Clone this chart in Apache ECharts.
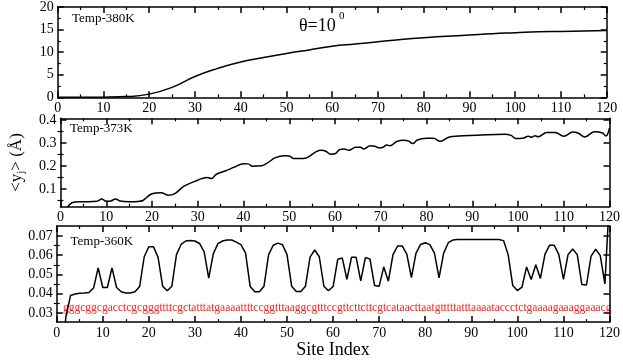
<!DOCTYPE html>
<html>
<head>
<meta charset="utf-8">
<script src="https://cdn.jsdelivr.net/npm/echarts@6/dist/echarts.min.js"></script>
<style>
  html, body { margin: 0; padding: 0; background: #fff; }
  #chart { width: 623px; height: 360px; }
</style>
</head>
<body>
<div id="chart"></div>
<script>
// top panel, Temp-380K (smooth curve, read at every 5 sites)
const x380 = [0, 5, 10, 15, 20, 25, 30, 35, 40, 45, 50, 55, 60, 65, 70, 75, 80, 85, 90, 95, 100, 105, 110, 115, 120];
const y380 = [0, 0, 0.03, 0.15, 0.7, 2.2, 4.6, 6.4, 7.8, 8.8, 9.7, 10.5, 11.3, 11.8, 12.3, 12.8, 13.2, 13.5, 13.8, 14.1, 14.3, 14.5, 14.6, 14.7, 14.8];

// middle panel, Temp-373K
const x373 = [1.5, 2.5, 4, 6, 8, 9, 10, 11, 12, 13, 15, 17, 18, 20, 22, 23.5, 25, 27, 30, 32, 33, 34, 36, 38, 40, 41, 42, 44, 45, 47, 49, 50, 51, 53, 54, 56, 57, 58, 59, 60, 61, 62, 63, 64.5, 65.5, 66.3, 67.7, 68.7, 69.7, 70.5, 71.3, 72, 73.5, 75, 76, 77, 78, 80, 81.5, 83, 85, 87, 91, 97, 98.5, 99.5, 101, 102.3, 103, 103.7, 104.4, 106.3, 108.1, 110, 112, 113.2, 114.6, 116.7, 118.5, 119.2, 120];
const y373 = [0.02, 0.04, 0.045, 0.045, 0.047, 0.056, 0.047, 0.048, 0.056, 0.048, 0.045, 0.046, 0.05, 0.079, 0.084, 0.073, 0.08, 0.112, 0.138, 0.15, 0.145, 0.163, 0.178, 0.195, 0.21, 0.209, 0.199, 0.201, 0.21, 0.236, 0.244, 0.243, 0.232, 0.232, 0.237, 0.263, 0.268, 0.264, 0.251, 0.253, 0.271, 0.274, 0.268, 0.281, 0.281, 0.274, 0.288, 0.286, 0.278, 0.281, 0.291, 0.288, 0.306, 0.312, 0.309, 0.297, 0.313, 0.32, 0.32, 0.307, 0.326, 0.33, 0.333, 0.338, 0.333, 0.319, 0.32, 0.329, 0.325, 0.331, 0.327, 0.345, 0.345, 0.329, 0.348, 0.342, 0.326, 0.349, 0.343, 0.33, 0.365];

// bottom panel, Temp-360K (one value per site 1..120)
const sites360 = Array.from({ length: 120 }, (_, i) => i + 1);
const y360 = [
  0.005, 0.028, 0.039, 0.0398, 0.0402, 0.0403, 0.0406, 0.0429, 0.0534, 0.0432,
  0.0432, 0.0534, 0.0432, 0.041, 0.0403, 0.0403, 0.041, 0.0437, 0.0592, 0.0644,
  0.0644, 0.059, 0.0439, 0.0415, 0.0439, 0.0603, 0.0656, 0.0674, 0.0677, 0.0674,
  0.0661, 0.0619, 0.0481, 0.0608, 0.066, 0.0674, 0.0679, 0.0679, 0.0668, 0.0655,
  0.0611, 0.0437, 0.041, 0.041, 0.0439, 0.0603, 0.0652, 0.0663, 0.0655, 0.0603,
  0.0439, 0.0411, 0.0411, 0.0439, 0.059, 0.0627, 0.0592, 0.0439, 0.0415, 0.0437,
  0.0579, 0.0585, 0.0474, 0.0589, 0.0589, 0.0466, 0.0587, 0.0581, 0.0442, 0.0439,
  0.0539, 0.0465, 0.0603, 0.0648, 0.0648, 0.0606, 0.0484, 0.0611, 0.0656, 0.0665,
  0.0655, 0.0611, 0.0482, 0.0611, 0.0665, 0.0679, 0.0682, 0.0682, 0.0682, 0.0682,
  0.0682, 0.0682, 0.0682, 0.0682, 0.0682, 0.0682, 0.0676, 0.0603, 0.0442, 0.0416,
  0.0434, 0.0539, 0.0474, 0.055, 0.0479, 0.0606, 0.0652, 0.0652, 0.0603, 0.0474,
  0.0603, 0.0632, 0.0603, 0.0447, 0.0445, 0.0595, 0.0631, 0.0598, 0.045, 0.09
];

const sequence = 'gggcggcgacctcgcgggttttcgctatttatgaaaattttccggtttaaggcgtttccgttcttcttcgtcataacttaatgtttttatttaaaataccctctgaaaagaaaggaaacg';

const ticks373 = [0.1, 0.2, 0.3, 0.4];
const minor373 = [0.05, 0.15, 0.25, 0.35];
const ticks360 = [0.03, 0.04, 0.05, 0.06, 0.07];
const minor360 = [0.035, 0.045, 0.055, 0.065];

const FONT = 'Liberation Serif';
const BLACK = '#000';

let chart = echarts.init(document.getElementById('chart'));

function pairs(xs, ys) {
  return xs.map((x, i) => [x, ys[i]]);
}

function xAxis(grid, pos, label) {
  return {
    type: 'value', gridIndex: grid, position: pos, min: 0, max: 120, interval: 10,
    axisLine: { show: true, onZero: false, lineStyle: { color: BLACK, width: 1.5 } },
    axisTick: { show: true, inside: true, length: 6, lineStyle: { color: BLACK, width: 1.5 } },
    minorTick: { show: true, splitNumber: 2, length: 3, lineStyle: { color: BLACK, width: 1.2 } },
    axisLabel: { show: label, margin: 4, color: BLACK, fontFamily: FONT, fontSize: 14 },
    splitLine: { show: false }
  };
}

function yAxis(grid, pos, min, max, opts) {
  return Object.assign({
    type: 'value', gridIndex: grid, position: pos, min: min, max: max,
    axisLine: { show: true, onZero: false, lineStyle: { color: BLACK, width: 1.5 } },
    axisTick: { show: true, inside: true, length: 6, lineStyle: { color: BLACK, width: 1.5 } },
    axisLabel: { show: false },
    splitLine: { show: false }
  }, opts);
}

const label = { show: true, margin: 4, color: BLACK, fontFamily: FONT, fontSize: 14 };
const minorTickStyle = { show: true, inside: true, length: 3, lineStyle: { color: BLACK, width: 1.2 } };

let xAxes = [
  xAxis(0, 'bottom', true), xAxis(0, 'top', false),
  xAxis(1, 'bottom', true), xAxis(1, 'top', false),
  Object.assign(xAxis(2, 'bottom', true), {
    name: 'Site Index', nameLocation: 'middle', nameGap: 18,
    nameTextStyle: { color: BLACK, fontFamily: FONT, fontSize: 18 }
  }),
  xAxis(2, 'top', false)
];

let yAxes = [
  // top panel
  yAxis(0, 'left', 0, 20, { interval: 5, axisLabel: label,
    minorTick: { show: true, splitNumber: 2, length: 3, lineStyle: { color: BLACK, width: 1.2 } } }),
  yAxis(0, 'right', 0, 20, { interval: 5,
    minorTick: { show: true, splitNumber: 2, length: 3, lineStyle: { color: BLACK, width: 1.2 } } }),
  // middle panel
  yAxis(1, 'left', 0.023, 0.407, {
    axisLabel: Object.assign({ customValues: ticks373 }, label),
    axisTick: { show: true, inside: true, length: 6, customValues: ticks373, lineStyle: { color: BLACK, width: 1.5 } },
    name: '{a|<y}{b|j}{a|> (Å)}', nameLocation: 'middle', nameRotate: 90, nameGap: 34,
    nameTextStyle: {
      rich: {
        a: { fontFamily: FONT, fontSize: 17, color: BLACK, lineHeight: 20 },
        b: { fontFamily: FONT, fontSize: 11, color: BLACK, lineHeight: 10, verticalAlign: 'bottom' }
      }
    }
  }),
  yAxis(1, 'right', 0.023, 0.407, {
    axisTick: { show: true, inside: true, length: 6, customValues: ticks373, lineStyle: { color: BLACK, width: 1.5 } } }),
  yAxis(1, 'left', 0.023, 0.407, { axisLine: { show: false },
    axisTick: Object.assign({ customValues: minor373 }, minorTickStyle) }),
  yAxis(1, 'right', 0.023, 0.407, { axisLine: { show: false },
    axisTick: Object.assign({ customValues: minor373 }, minorTickStyle) }),
  // bottom panel
  yAxis(2, 'left', 0.0252, 0.0752, {
    axisLabel: Object.assign({ customValues: ticks360 }, label),
    axisTick: { show: true, inside: true, length: 6, customValues: ticks360, lineStyle: { color: BLACK, width: 1.5 } } }),
  yAxis(2, 'right', 0.0252, 0.0752, {
    axisTick: { show: true, inside: true, length: 6, customValues: ticks360, lineStyle: { color: BLACK, width: 1.5 } } }),
  yAxis(2, 'left', 0.0252, 0.0752, { axisLine: { show: false },
    axisTick: Object.assign({ customValues: minor360 }, minorTickStyle) }),
  yAxis(2, 'right', 0.0252, 0.0752, { axisLine: { show: false },
    axisTick: Object.assign({ customValues: minor360 }, minorTickStyle) })
];

function text(left, top, str, size, color) {
  return {
    type: 'text', left: left, top: top,
    style: { text: str, fontFamily: FONT, fontSize: size, fill: color || BLACK }
  };
}

chart.setOption({
  animation: false,
  backgroundColor: '#fff',
  grid: [
    { left: 57.7, top: 5, width: 549, height: 92.3 },
    { left: 57.7, top: 118.3, width: 554, height: 88.4 },
    { left: 56.7, top: 226, width: 555, height: 103.3 }
  ],
  xAxis: xAxes,
  yAxis: yAxes,
  series: [
    {
      type: 'line', xAxisIndex: 0, yAxisIndex: 0, data: pairs(x380, y380),
      smooth: true, showSymbol: false, lineStyle: { color: BLACK, width: 1.5 }
    },
    {
      type: 'line', xAxisIndex: 2, yAxisIndex: 2, data: pairs(x373, y373),
      smooth: 0.4, showSymbol: false, lineStyle: { color: BLACK, width: 1.5 }
    },
    {
      type: 'line', xAxisIndex: 4, yAxisIndex: 6, data: pairs(sites360, y360),
      showSymbol: false, lineStyle: { color: BLACK, width: 1.5 }
    }
  ],
  graphic: [
    text(72, 12, 'Temp-380K', 13),
    text(70, 122.5, 'Temp-373K', 13),
    text(70.5, 235, 'Temp-360K', 13),
    text(299, 17, 'θ=10', 18),
    text(339, 11, '0', 11),
    text(63, 302, sequence, 11.5, '#ff2020')
  ]
});
</script>
</body>
</html>
